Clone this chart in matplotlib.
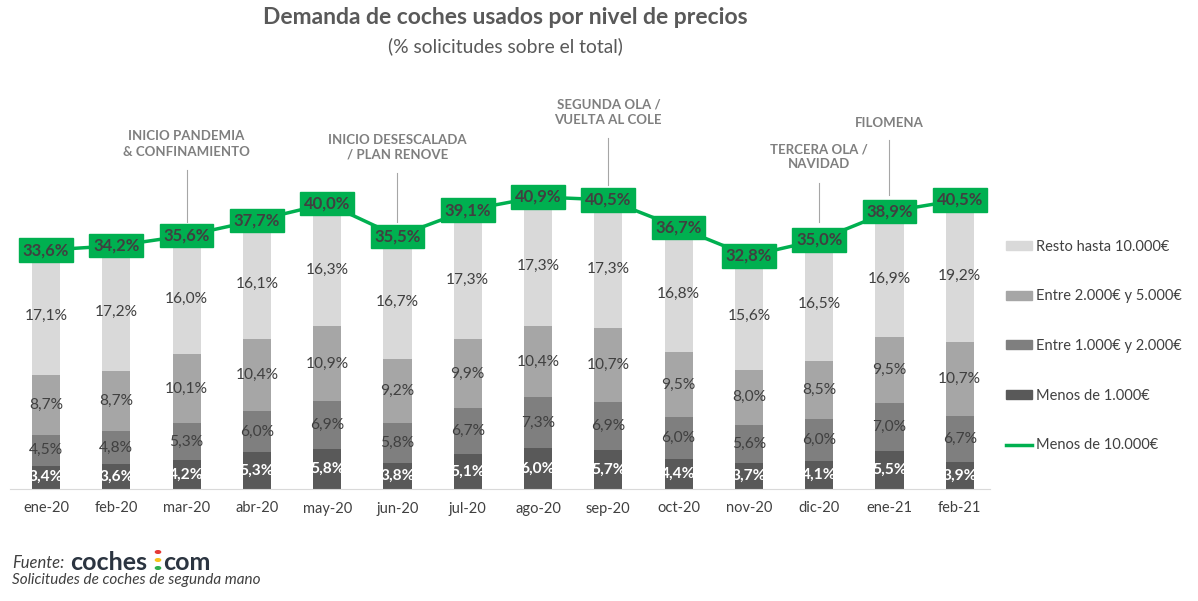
import matplotlib.pyplot as plt
import numpy as np
from matplotlib.patches import Patch, Circle
from matplotlib.lines import Line2D
from matplotlib.transforms import blended_transform_factory

plt.rcParams['font.family'] = ['Lato', 'DejaVu Sans']

meses = ['ene-20', 'feb-20', 'mar-20', 'abr-20', 'may-20', 'jun-20', 'jul-20',
         'ago-20', 'sep-20', 'oct-20', 'nov-20', 'dic-20', 'ene-21', 'feb-21']
menos_1000 = [3.4, 3.6, 4.2, 5.3, 5.8, 3.8, 5.1, 6.0, 5.7, 4.4, 3.7, 4.1, 5.5, 3.9]
entre_1_2 = [4.5, 4.8, 5.3, 6.0, 6.9, 5.8, 6.7, 7.3, 6.9, 6.0, 5.6, 6.0, 7.0, 6.7]
entre_2_5 = [8.7, 8.7, 10.1, 10.4, 10.9, 9.2, 9.9, 10.4, 10.7, 9.5, 8.0, 8.5, 9.5, 10.7]
resto = [17.1, 17.2, 16.0, 16.1, 16.3, 16.7, 17.3, 17.3, 17.3, 16.8, 15.6, 16.5, 16.9, 19.2]
menos_10000 = [33.6, 34.2, 35.6, 37.7, 40.0, 35.5, 39.1, 40.9, 40.5, 36.7, 32.8, 35.0, 38.9, 40.5]

# eventos: (indice del mes, texto, altura del texto en px desde arriba, fin de la linea)
eventos = [(2, 'INICIO PANDEMIA\n& CONFINAMIENTO', 144, 222),
           (5, 'INICIO DESESCALADA\n/ PLAN RENOVE', 147, 222),
           (8, 'SEGUNDA OLA /\nVUELTA AL COLE', 112, 185),
           (11, 'TERCERA OLA /\nNAVIDAD', 157, 222),
           (12, 'FILOMENA', 123, 195)]

series = [('Menos de 1.000€', menos_1000, '#595959', 'white', 'bold'),
          ('Entre 1.000€ y 2.000€', entre_1_2, '#7F7F7F', '#404040', 'normal'),
          ('Entre 2.000€ y 5.000€', entre_2_5, '#A6A6A6', '#404040', 'normal'),
          ('Resto hasta 10.000€', resto, '#D9D9D9', '#404040', 'normal')]

W, H = 1198, 601
fig = plt.figure(figsize=(W / 100, H / 100), dpi=100)
ax = fig.add_axes([10 / W, 112 / H, 980 / W, 429 / H])
x = np.arange(len(meses))

base = np.zeros(len(meses))
for nombre, vals, color, tcolor, tw in series:
    vals = np.array(vals)
    ax.bar(x, vals, 0.40, bottom=base, color=color, label=nombre, zorder=2)
    for xi, b, v in zip(x, base, vals):
        ax.text(xi, b + v / 2, f'{v:.1f}%'.replace('.', ','), ha='center', va='center',
                fontsize=11.2, color=tcolor, fontweight=tw, zorder=3)
    base += vals

ax.set_xlim(-0.512, 13.43)
ax.set_ylim(0, 62.2)
ax.set_xticks(x)
ax.set_xticklabels(meses, fontsize=10.5, color='#404040')
ax.tick_params(axis='x', length=0, pad=9)
ax.set_yticks([])
for s in ['top', 'right', 'left']:
    ax.spines[s].set_visible(False)
ax.spines['bottom'].set_color('#D9D9D9')

ax2 = ax.twinx()
ax2.set_ylim(0.8, 59.7)
ax2.axis('off')
ax2.plot(x, menos_10000, color='#00B050', lw=2.5, zorder=4)
for xi, v in zip(x, menos_10000):
    ax2.text(xi, v, f'{v:.1f}%'.replace('.', ','), ha='center', va='center',
             fontsize=12, fontweight='bold', color='#404040', zorder=5,
             bbox=dict(boxstyle='square,pad=0.22', fc='#00B050', ec='#00B050'))

tr = blended_transform_factory(ax.transData, fig.transFigure)
for i, texto, ty, yfin in eventos:
    ax.text(i, 1 - ty / H, texto, transform=tr, ha='center', va='center',
            fontsize=9.5, fontweight='bold', color='#7F7F7F', linespacing=1.3)
    nl = texto.count('\n')
    ytop = ty + 9 * (nl + 1) + 8
    ax.plot([i, i], [1 - ytop / H, 1 - yfin / H], transform=tr, color='#A6A6A6',
            lw=0.8, clip_on=False)

fig.text(505 / W, 1 - 18 / H, 'Demanda de coches usados por nivel de precios',
         ha='center', va='center', fontsize=16.5, fontweight='bold', color='#595959')
fig.text(505 / W, 1 - 46 / H, '(% solicitudes sobre el total)',
         ha='center', va='center', fontsize=13.9, color='#595959')

handles = [Patch(color=c) for _, _, c, _, _ in series[::-1]]
labels = [n for n, _, _, _, _ in series[::-1]]
handles.append(Line2D([], [], color='#00B050', lw=2.5))
labels.append('Menos de 10.000€')
fig.legend(handles, labels, loc='center left', bbox_to_anchor=(1000 / W, 1 - 346 / H),
           frameon=False, fontsize=10.5, labelspacing=2.45, handlelength=1.8,
           handleheight=0.6, handletextpad=0.3, labelcolor='#404040', borderaxespad=0)

fig.text(12 / W, 1 - 563 / H, 'Fuente:', ha='left', va='center', fontsize=12,
         style='italic', color='#404040')
fig.text(70 / W, 1 - 562 / H, 'coches', ha='left', va='center', fontsize=18,
         fontweight='bold', color='#2B3440')
fig.text(163 / W, 1 - 562 / H, 'com', ha='left', va='center', fontsize=18,
         fontweight='bold', color='#2B3440')
for cy, c in [(552, '#E53935'), (560, '#F6C21C'), (568, '#2EAE4E')]:
    fig.patches.append(Circle((158 / W, 1 - cy / H), 2.6 / W, transform=fig.transFigure,
                              color=c))
fig.text(12 / W, 1 - 580 / H, 'Solicitudes de coches de segunda mano', ha='left',
         va='center', fontsize=11, style='italic', color='#404040')

fig.savefig('out.png', dpi=100, facecolor='white')
